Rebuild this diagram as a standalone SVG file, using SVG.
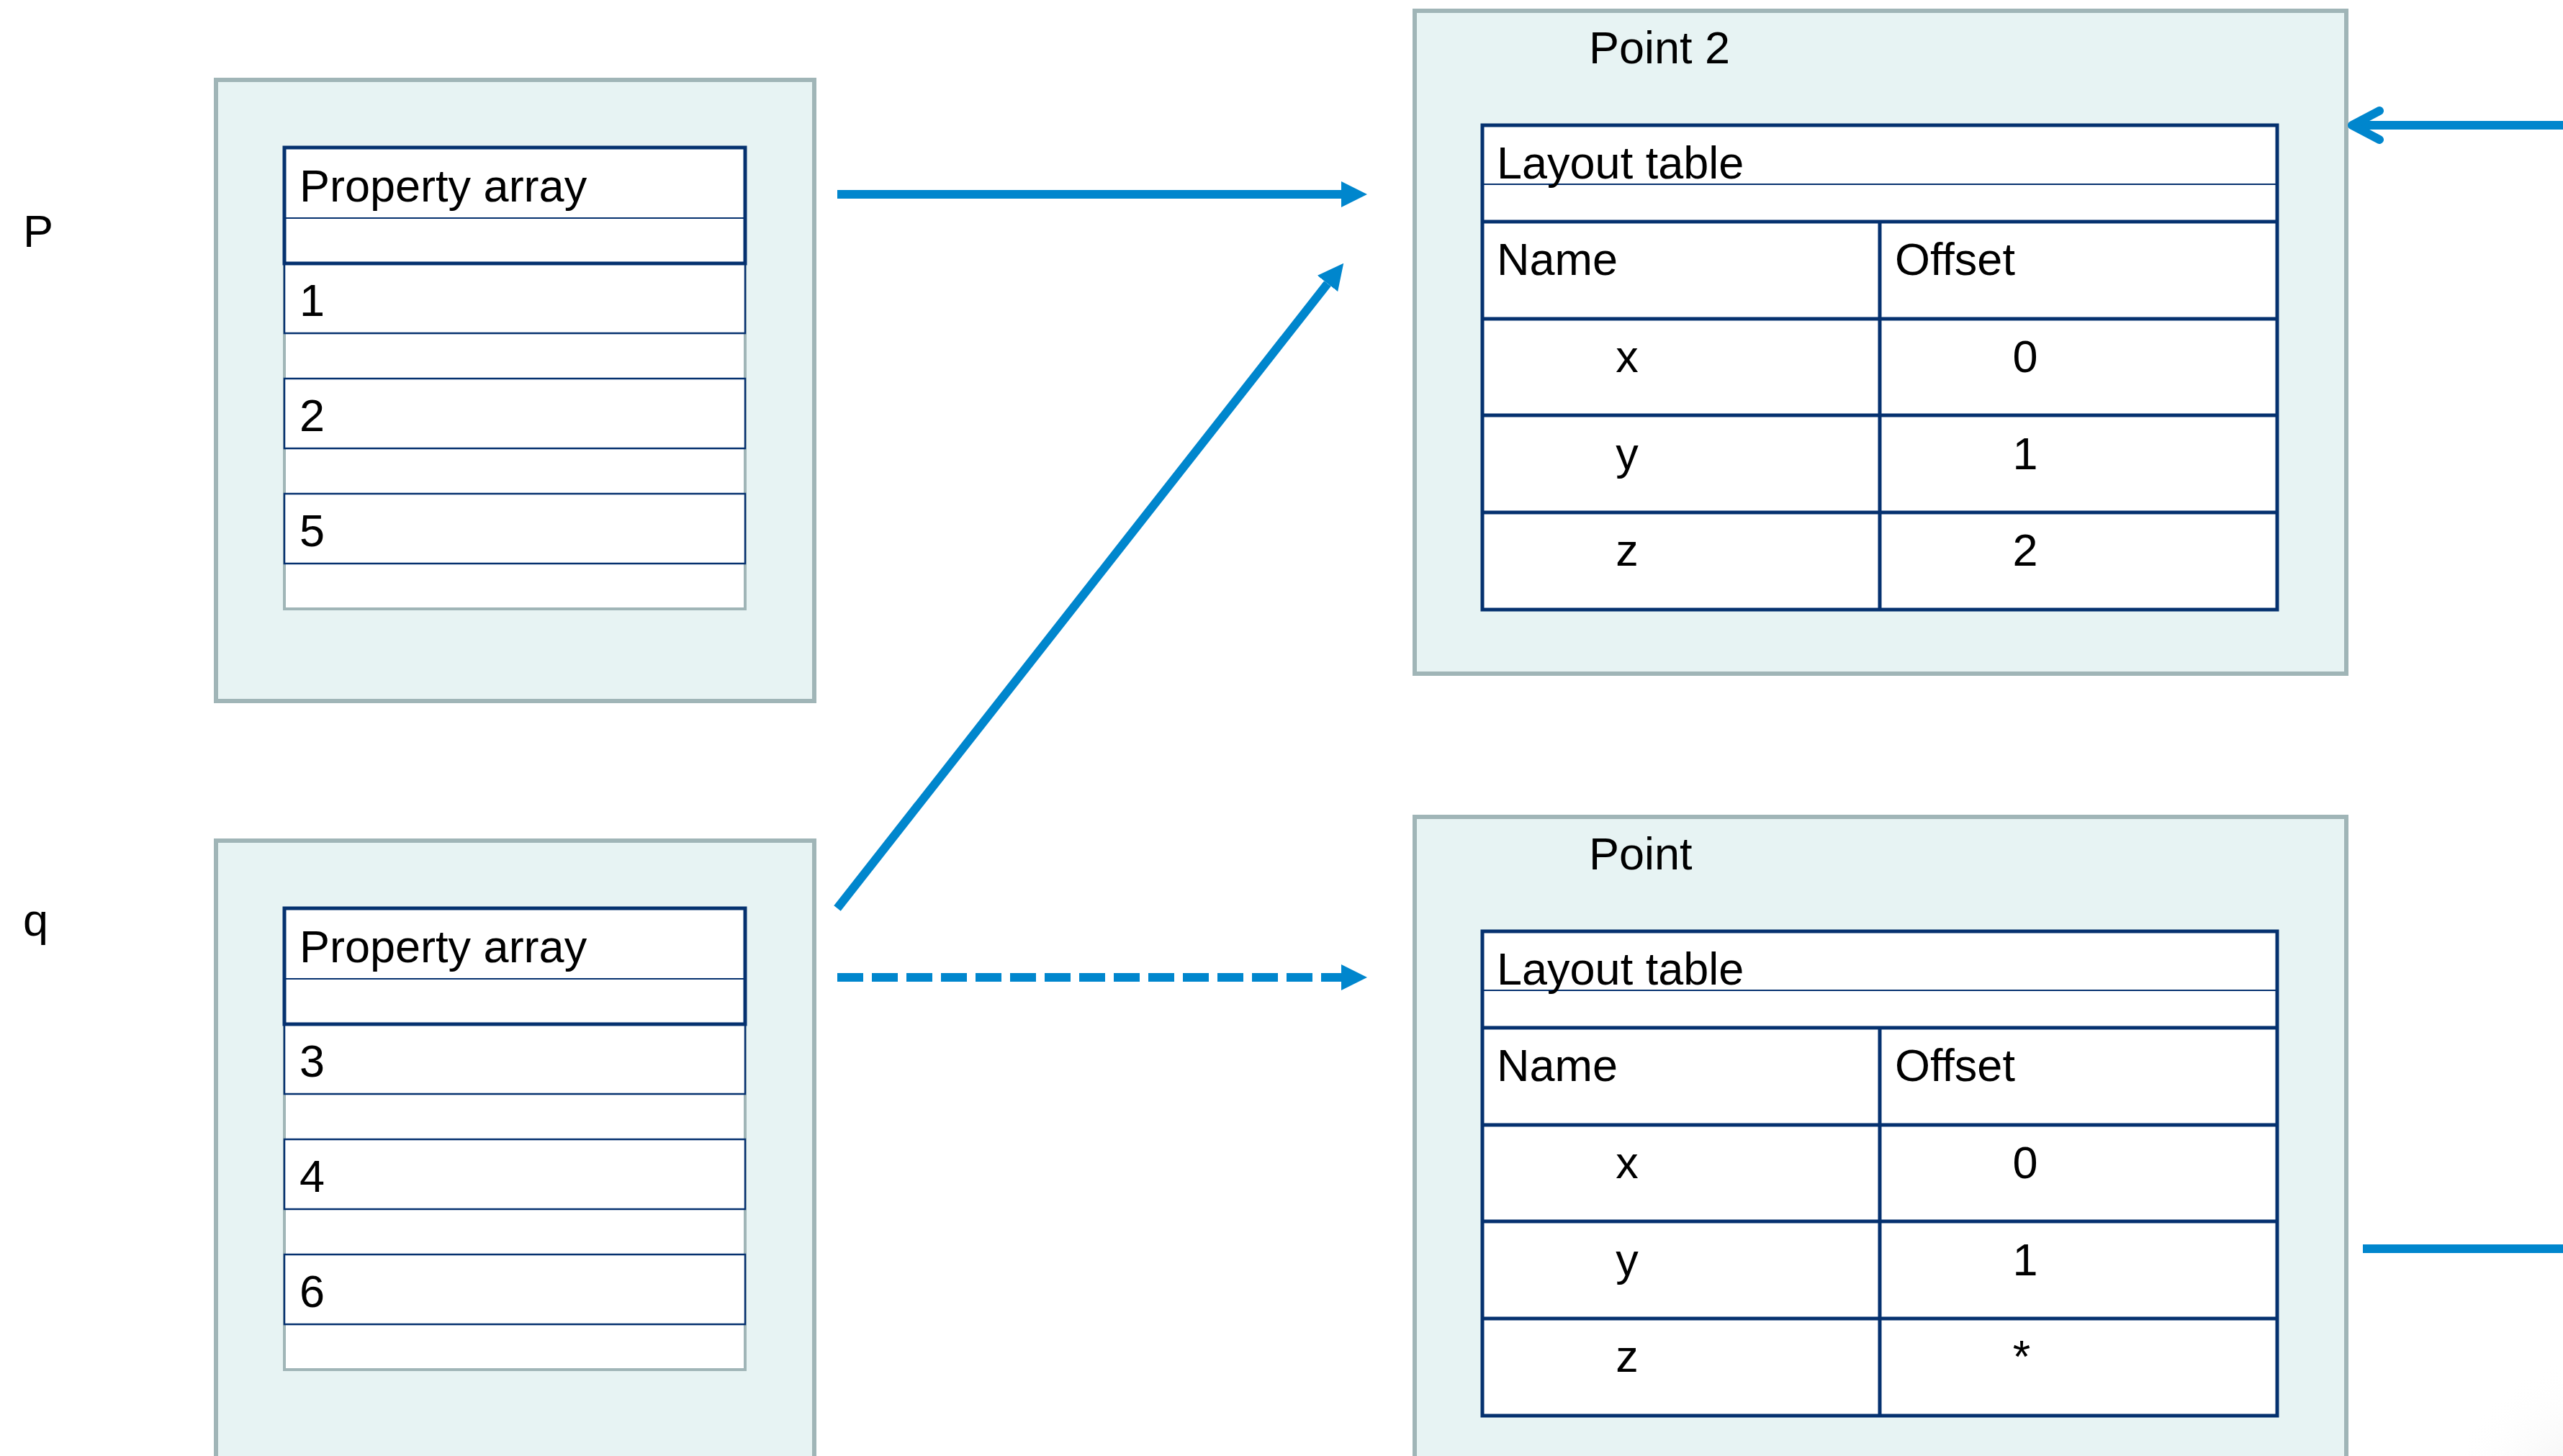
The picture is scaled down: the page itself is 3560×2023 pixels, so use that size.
<svg xmlns="http://www.w3.org/2000/svg" width="3560" height="2023" viewBox="0 0 3560 2023">
  <style>
    text { font-family: "Liberation Sans", Arial, sans-serif; font-size: 63px; fill: #000; }
    .outer { fill: #e7f3f3; stroke: #a0b5b7; stroke-width: 6; }
    .arr { fill: #fff; stroke: #a0b5b7; stroke-width: 4; }
    .hdr { fill: none; stroke: #05316f; stroke-width: 5; }
    .cell { fill: #fff; stroke: #05316f; stroke-width: 2.5; }
    .thin { stroke: #05316f; stroke-width: 2; fill: none; }
    .tbl { fill: #fff; stroke: #05316f; stroke-width: 5; }
    .grid { stroke: #05316f; stroke-width: 5; fill: none; }
    .link { stroke: #0086cd; stroke-width: 12; fill: none; }
    .dash { stroke-dasharray: 36 12; }
    .mid { text-anchor: middle; }
  </style>
  <defs>
    <marker id="head" viewBox="0 0 3 3" refX="0" refY="1.5" markerWidth="3" markerHeight="3" markerUnits="strokeWidth" orient="auto">
      <path d="M0,0 L3,1.5 L0,3 z" fill="#0086cd"/>
    </marker>
    <radialGradient id="corner" cx="3620" cy="2110" r="230" gradientUnits="userSpaceOnUse">
      <stop offset="0" stop-color="#e4e4e4"/>
      <stop offset="1" stop-color="#ffffff" stop-opacity="0"/>
    </radialGradient>
  </defs>

  <rect x="0" y="0" width="3560" height="2023" fill="#fff"/>
  <rect x="3300" y="1800" width="260" height="223" fill="url(#corner)"/>

  <!-- variable labels -->
  <g id="label-p"><text x="32" y="343">P</text></g>
  <g id="label-q"><text x="32" y="1300">q</text></g>

  <!-- object p with its property array -->
  <g id="object-p">
    <rect class="outer" x="300" y="111" width="831" height="863"/>
    <rect class="arr" x="395" y="205" width="640" height="641"/>
    <rect class="cell" x="395" y="366" width="640" height="97"/>
    <rect class="cell" x="395" y="526" width="640" height="97"/>
    <rect class="cell" x="395" y="686" width="640" height="97"/>
    <line class="thin" x1="395" y1="303" x2="1035" y2="303"/>
    <rect class="hdr" x="395" y="205" width="640" height="161"/>
    <text x="416" y="280">Property array</text>
    <text x="416" y="439">1</text>
    <text x="416" y="599">2</text>
    <text x="416" y="759">5</text>
  </g>

  <!-- object q with its property array -->
  <g id="object-q">
    <rect class="outer" x="300" y="1168" width="831" height="900"/>
    <rect class="arr" x="395" y="1262" width="640" height="641"/>
    <rect class="cell" x="395" y="1423" width="640" height="97"/>
    <rect class="cell" x="395" y="1583" width="640" height="97"/>
    <rect class="cell" x="395" y="1743" width="640" height="97"/>
    <line class="thin" x1="395" y1="1360" x2="1035" y2="1360"/>
    <rect class="hdr" x="395" y="1262" width="640" height="161"/>
    <text x="416" y="1337">Property array</text>
    <text x="416" y="1496">3</text>
    <text x="416" y="1656">4</text>
    <text x="416" y="1816">6</text>
  </g>

  <!-- hidden class "Point 2" -->
  <g id="map-point2">
    <rect class="outer" x="1965" y="15" width="1294" height="921"/>
    <text x="2207" y="88">Point 2</text>
    <rect class="tbl" x="2059" y="174" width="1104" height="673"/>
    <line class="thin" x1="2059" y1="256" x2="3163" y2="256"/>
    <path class="grid" d="M2059,308 H3163 M2059,443 H3163 M2059,577 H3163 M2059,712 H3163 M2611,308 V847"/>
    <text x="2079" y="248">Layout table</text>
    <text x="2079" y="382">Name</text>
    <text x="2632" y="382">Offset</text>
    <text class="mid" x="2260" y="517">x</text>
    <text class="mid" x="2260" y="652">y</text>
    <text class="mid" x="2260" y="786">z</text>
    <text class="mid" x="2813" y="517">0</text>
    <text class="mid" x="2813" y="652">1</text>
    <text class="mid" x="2813" y="786">2</text>
  </g>

  <!-- hidden class "Point" -->
  <g id="map-point">
    <rect class="outer" x="1965" y="1135" width="1294" height="950"/>
    <text x="2207" y="1208">Point</text>
    <rect class="tbl" x="2059" y="1294" width="1104" height="673"/>
    <line class="thin" x1="2059" y1="1376" x2="3163" y2="1376"/>
    <path class="grid" d="M2059,1428 H3163 M2059,1563 H3163 M2059,1697 H3163 M2059,1832 H3163 M2611,1428 V1967"/>
    <text x="2079" y="1368">Layout table</text>
    <text x="2079" y="1502">Name</text>
    <text x="2632" y="1502">Offset</text>
    <text class="mid" x="2260" y="1637">x</text>
    <text class="mid" x="2260" y="1772">y</text>
    <text class="mid" x="2260" y="1906">z</text>
    <text class="mid" x="2813" y="1637">0</text>
    <text class="mid" x="2813" y="1772">1</text>
    <text class="mid" x="2808" y="1906">*</text>
  </g>

  <!-- pointers -->
  <g id="connectors">
    <line class="link" x1="1163" y1="270" x2="1863" y2="270" marker-end="url(#head)"/>
    <line class="link" x1="1163" y1="1262" x2="1844" y2="394" marker-end="url(#head)"/>
    <line class="link dash" x1="1163" y1="1358" x2="1863" y2="1358" marker-end="url(#head)"/>
    <path class="link" d="M3560,174 H3270"/>
    <path class="link" d="M3305,154 L3267,174 L3305,194" stroke-linecap="round" stroke-linejoin="round"/>
    <path class="link" d="M3282,1735 H3560"/>
  </g>
</svg>
